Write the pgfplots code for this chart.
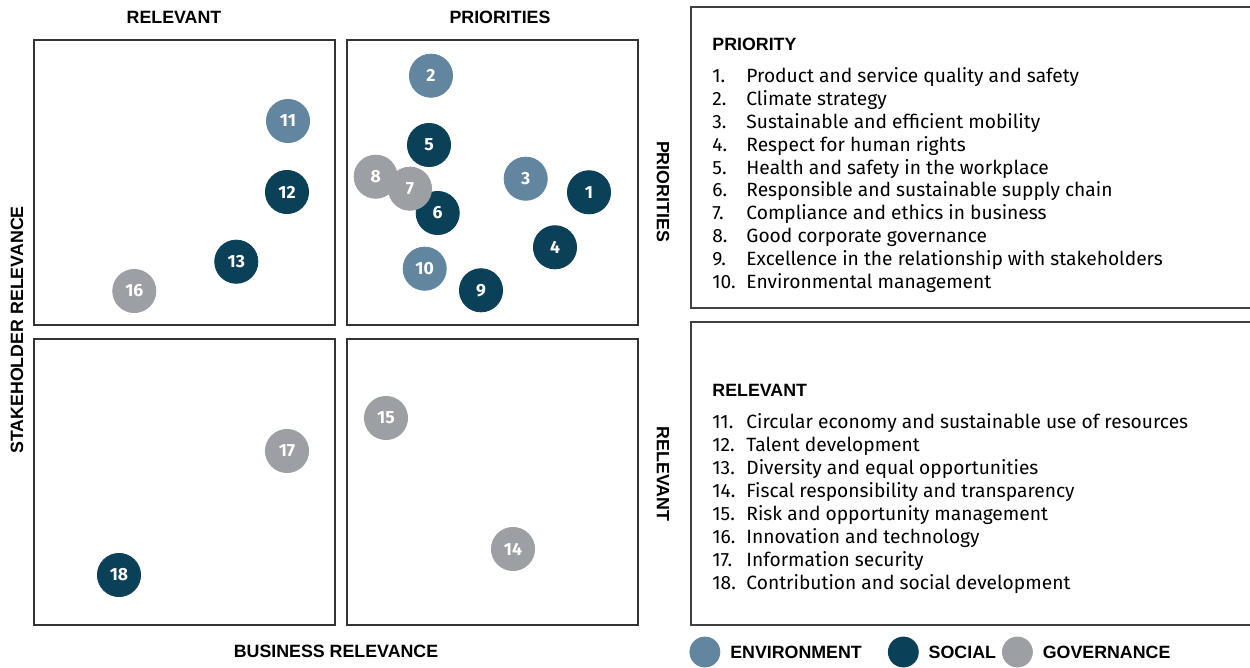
\documentclass[border=0pt]{standalone}
\usepackage{fontspec}
\setmainfont{Fira Sans}
\newfontfamily\labfont{Liberation Sans}
\usepackage{pgfplots}
\pgfplotsset{compat=1.18}
\definecolor{envc}{HTML}{6386A0}
\definecolor{socc}{HTML}{0A4058}
\definecolor{govc}{HTML}{9C9FA3}
\newcommand\lab{\labfont\bfseries\fontsize{8.9}{10}\selectfont}
\newcommand\itm{\fontsize{9.6}{11}\selectfont}
\pgfplotsset{
  quad/.style={scale only axis, anchor=north west, clip=false, xtick=\empty, ytick=\empty,
    y dir=reverse, axis line style={draw=black!80, line width=0.6pt},
    legend style={draw=none, fill=none, inner sep=0pt, outer sep=0pt, anchor=west,
      font=\lab, nodes={inner sep=0pt}, column sep=5pt}},
  bub/.style={only marks, mark=*, mark size=10.8pt, color=#1, mark options={fill=#1, draw=#1},
    point meta=explicit symbolic, nodes near coords, nodes near coords align={center},
    every node near coord/.append style={font=\bfseries\fontsize{8.8}{9}\selectfont, text=white, anchor=center, inner sep=0pt},
    legend image code/.code={\fill[#1] (7.5pt,0.33em-2.5pt) circle (7.5pt);}},
}
\begin{document}
\begin{tikzpicture}
\useasboundingbox (0,0) rectangle (625pt,-334pt);
% top-left: relevant
\begin{axis}[quad, at={(17pt,-20pt)}, width=150.5pt, height=142.5pt,
  xmin=34, xmax=335, ymin=40, ymax=325,
  legend style={at={(axis description cs:2.1777,-1.1474)}}]
\addplot[bub=envc] table[x=x, y=y, meta=l, row sep=\\] {x y l\\ 288 121 11\\};
\addlegendentry{ENVIRONMENT}
\addplot[bub=socc] table[x=x, y=y, meta=l, row sep=\\] {x y l\\ 287 192 12\\ 236.3 261.7 13\\};
\addplot[bub=govc] table[x=x, y=y, meta=l, row sep=\\] {x y l\\ 134.3 291 16\\};
\end{axis}
% top-right: priorities
\begin{axis}[quad, at={(173.5pt,-20pt)}, width=145.5pt, height=142.5pt,
  xmin=347, xmax=638, ymin=40, ymax=325]
\addplot[bub=envc] table[x=x, y=y, meta=l, row sep=\\] {x y l\\ 431 75.7 2\\ 525.7 178.7 3\\ 424.7 268.7 10\\};
\addplot[bub=socc] table[x=x, y=y, meta=l, row sep=\\] {x y l\\ 589 192.3 1\\ 555 247.3 4\\ 429 145 5\\ 437.7 213 6\\ 481 290.3 9\\};
\addplot[bub=govc] table[x=x, y=y, meta=l, row sep=\\] {x y l\\ 375.7 176.7 8\\ 410 188.7 7\\};
\end{axis}
% bottom-left
\begin{axis}[quad, at={(17pt,-169.5pt)}, width=150.5pt, height=143pt,
  xmin=34, xmax=335, ymin=339, ymax=625,
  legend style={at={(axis description cs:2.837,-0.0944)}}]
\addplot[bub=socc] table[x=x, y=y, meta=l, row sep=\\] {x y l\\ 119 575 18\\};
\addlegendentry{SOCIAL}
\addplot[bub=govc] table[x=x, y=y, meta=l, row sep=\\] {x y l\\ 287 451 17\\};
\end{axis}
% bottom-right
\begin{axis}[quad, at={(173.5pt,-169.5pt)}, width=145.5pt, height=143pt,
  xmin=347, xmax=638, ymin=339, ymax=625,
  legend style={at={(axis description cs:2.2509,-0.0944)}}]
\addplot[bub=govc] table[x=x, y=y, meta=l, row sep=\\] {x y l\\ 513 549 14\\ 386 418 15\\};
\addlegendentry{GOVERNANCE}
\end{axis}
\begin{scope}[x=0.5pt, y=-0.5pt]
\node[font=\lab] at (174,17) {RELEVANT};
\node[font=\lab] at (500,17) {PRIORITIES};
\node[font=\lab] at (336,651) {BUSINESS RELEVANCE};
\node[font=\lab, rotate=90] at (17,330) {STAKEHOLDER RELEVANCE};
\node[font=\lab, rotate=-90] at (663,191.5) {PRIORITIES};
\node[font=\lab, rotate=-90] at (663,474) {RELEVANT};
\draw[black!75, line width=0.6pt] (691,7) rectangle (1260,308);
\draw[black!75, line width=0.6pt] (691,322) rectangle (1260,625);
\node[font=\lab, anchor=base west, inner sep=0pt] at (712,51) {PRIORITY};
\foreach \n/\t [count=\i from 0] in {1/Product and service quality and safety, 2/Climate strategy, 3/Sustainable and efficient mobility, 4/Respect for human rights, 5/Health and safety in the workplace, 6/Responsible and sustainable supply chain, 7/Compliance and ethics in business, 8/Good corporate governance, 9/Excellence in the relationship with stakeholders, 10/Environmental management}{
  \node[font=\itm, anchor=base west, inner sep=0pt] at (712,{83+22.8*\i}) {\n.};
  \node[font=\itm, anchor=base west, inner sep=0pt] at (746,{83+22.8*\i}) {\t};
}
\node[font=\lab, anchor=base west, inner sep=0pt] at (712,396.5) {RELEVANT};
\foreach \n/\t [count=\i from 0] in {11/Circular economy and sustainable use of resources, 12/Talent development, 13/Diversity and equal opportunities, 14/Fiscal responsibility and transparency, 15/Risk and opportunity management, 16/Innovation and technology, 17/Information security, 18/Contribution and social development}{
  \node[font=\itm, anchor=base west, inner sep=0pt] at (712,{429+22.86*\i}) {\n.};
  \node[font=\itm, anchor=base west, inner sep=0pt] at (746,{429+22.86*\i}) {\t};
}
\end{scope}
\end{tikzpicture}
\end{document}
